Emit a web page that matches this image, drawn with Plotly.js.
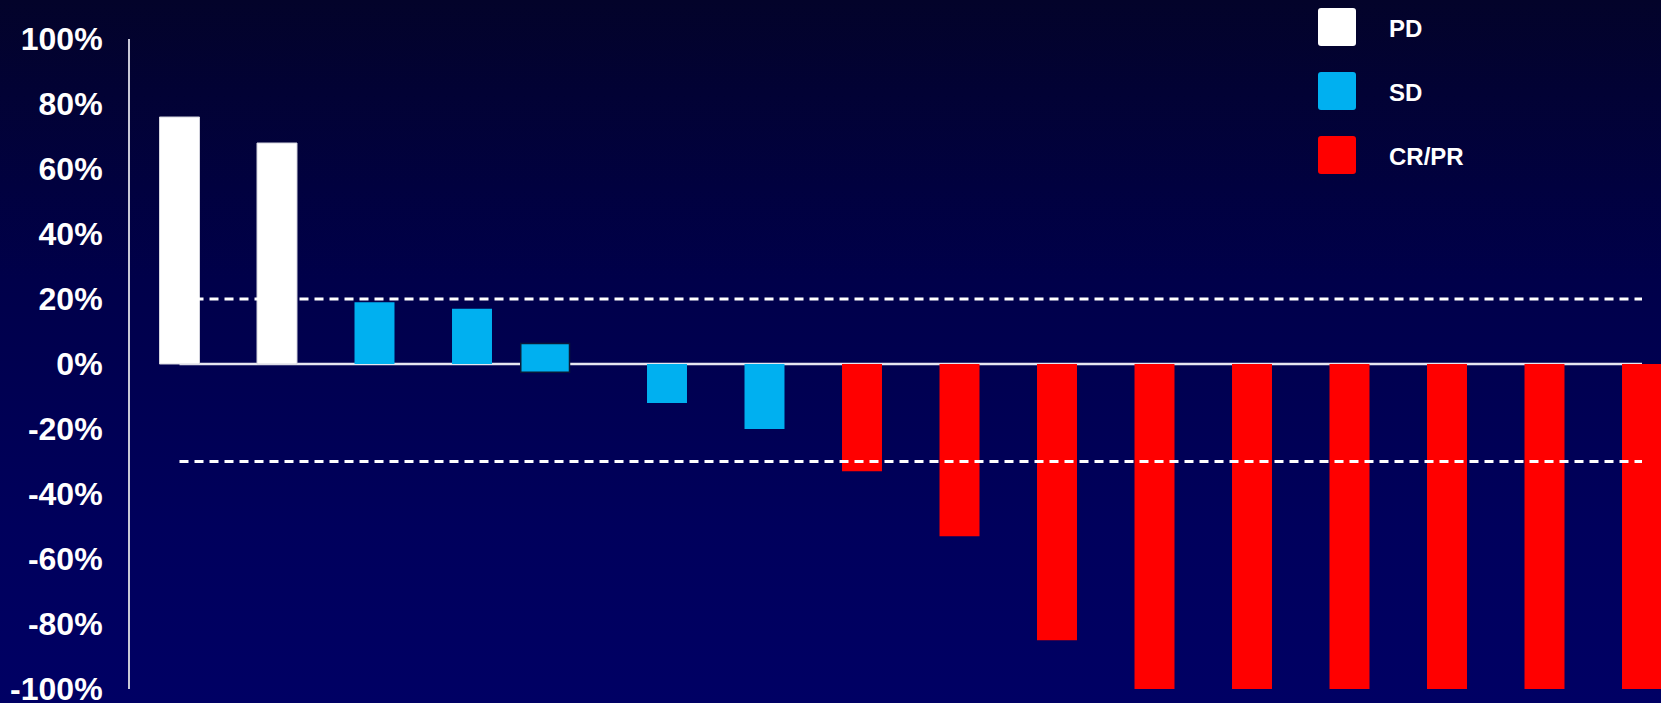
<!DOCTYPE html>
<html>
<head>
<meta charset="utf-8">
<script src="https://cdn.plot.ly/plotly-3.0.1.min.js"></script>
<style>
  html, body { margin: 0; padding: 0; }
  body {
    width: 1661px; height: 703px; overflow: hidden;
    background: linear-gradient(to bottom, #03032a 0%, #00004a 40%, #00005c 75%, #000064 100%);
  }
  #chart { width: 1661px; height: 703px; }
</style>
</head>
<body>
<div id="chart"></div>
<script>
// ---- data ----
const categories = ['PD', 'SD', 'CR/PR'];
const categoryColors = ['#ffffff', '#00b0f0', '#ff0000'];

const pdPositions = [0, 1];
const pdChange = [76, 68];

const sdPositions = [2, 3, 3.75, 5, 6];
const sdChange = [19, 17, 6.3, -12, -20];
const sdBase = [0, 0, -2.5, 0, 0];

const crprPositions = [7, 8, 9, 10, 11, 12, 13, 14, 15];
const crprChange = [-33, -53, -85, -100, -100, -100, -100, -100, -100];

const tickValues = [100, 80, 60, 40, 20, 0, -20, -40, -60, -80, -100];
const tickLabels = ['100%', '80%', '60%', '40%', '20%', '0%', '-20%', '-40%', '-60%', '-80%', '-100%'];

const thresholds = [20, -30];

// ---- layout geometry ----
const W = 1661, H = 703;
const M = { l: 130, r: 0, t: 39, b: 14 };
const plotW = W - M.l - M.r, plotH = H - M.t - M.b;
const px = v => (v - M.l) / plotW;
const py = v => (H - M.b - v) / plotH;

const barW = 0.41;
const FONT = 'Liberation Sans, Arial, Helvetica, sans-serif';

const traces = [
  {
    type: 'bar', name: categories[0], x: pdPositions, y: pdChange,
    width: pdPositions.map(() => barW),
    marker: { color: categoryColors[0], line: { color: '#d4d4de', width: 1 } },
    showlegend: false, hoverinfo: 'skip'
  },
  {
    type: 'bar', name: categories[1], x: sdPositions,
    y: sdChange.map((v, i) => v - sdBase[i]), base: sdBase,
    width: sdBase.map(b => b !== 0 ? 0.5 : barW),
    marker: {
      color: categoryColors[1],
      line: { color: sdBase.map(b => b !== 0 ? '#0a1838' : 'rgba(0,0,0,0)'),
              width: sdBase.map(b => b !== 0 ? 1.5 : 0) }
    },
    showlegend: false, hoverinfo: 'skip'
  },
  {
    type: 'bar', name: categories[2], x: crprPositions, y: crprChange,
    width: crprPositions.map(() => barW),
    marker: { color: categoryColors[2], line: { width: 0 } },
    showlegend: false, hoverinfo: 'skip'
  }
];

const lastPos = crprPositions[crprPositions.length - 1];
const shapes = [
  { type: 'line', xref: 'x', yref: 'y', x0: pdPositions[0], x1: lastPos, y0: 0, y1: 0,
    line: { color: '#e6e6f0', width: 2.5 }, layer: 'below' }
];
thresholds.forEach(t => shapes.push({
  type: 'line', xref: 'x', yref: 'y', x0: pdPositions[0], x1: lastPos, y0: t, y1: t,
  line: { color: '#ffffff', width: 3, dash: '9px,6px' }, layer: 'above'
}));

// custom legend (large rounded swatches)
const annotations = [];
const swX0 = 1318, swX1 = 1356, swSize = 38, r = 3;
const legendCentersY = [27, 91, 155];
categories.forEach((c, i) => {
  const cy = legendCentersY[i];
  const y0 = cy - swSize / 2, y1 = cy + swSize / 2;
  const X = v => px(v), Y = v => py(v);
  const path = `M ${X(swX0 + r)},${Y(y0)} L ${X(swX1 - r)},${Y(y0)} Q ${X(swX1)},${Y(y0)} ${X(swX1)},${Y(y0 + r)} ` +
               `L ${X(swX1)},${Y(y1 - r)} Q ${X(swX1)},${Y(y1)} ${X(swX1 - r)},${Y(y1)} ` +
               `L ${X(swX0 + r)},${Y(y1)} Q ${X(swX0)},${Y(y1)} ${X(swX0)},${Y(y1 - r)} ` +
               `L ${X(swX0)},${Y(y0 + r)} Q ${X(swX0)},${Y(y0)} ${X(swX0 + r)},${Y(y0)} Z`;
  shapes.push({ type: 'path', xref: 'paper', yref: 'paper', path: path,
    fillcolor: categoryColors[i], line: { width: 0 }, layer: 'above' });
  annotations.push({ xref: 'paper', yref: 'paper', x: px(1387), y: py(cy + 1),
    xanchor: 'left', yanchor: 'middle', showarrow: false, text: c,
    font: { family: FONT, size: 24, color: '#ffffff', weight: 'bold' } });
});

const layout = {
  width: W, height: H,
  margin: M,
  paper_bgcolor: 'rgba(0,0,0,0)',
  plot_bgcolor: 'rgba(0,0,0,0)',
  barmode: 'overlay',
  showlegend: false,
  xaxis: {
    range: [-49.5 / 97.5, (plotW - 49.5) / 97.5],
    showgrid: false, zeroline: false, showline: false, showticklabels: false, ticks: '',
    fixedrange: true
  },
  yaxis: {
    range: [-100, 100],
    tickvals: tickValues, ticktext: tickLabels,
    showgrid: false, zeroline: false,
    showline: true, linecolor: '#c8c8d6', linewidth: 2,
    ticks: '', ticklabelstandoff: 19, ticklabeloverflow: 'allow',
    tickfont: { family: FONT, size: 32, color: '#ffffff', weight: 'bold' },
    fixedrange: true
  },
  shapes: shapes,
  annotations: annotations
};

Plotly.newPlot('chart', traces, layout, { staticPlot: true, displayModeBar: false });
</script>
</body>
</html>
